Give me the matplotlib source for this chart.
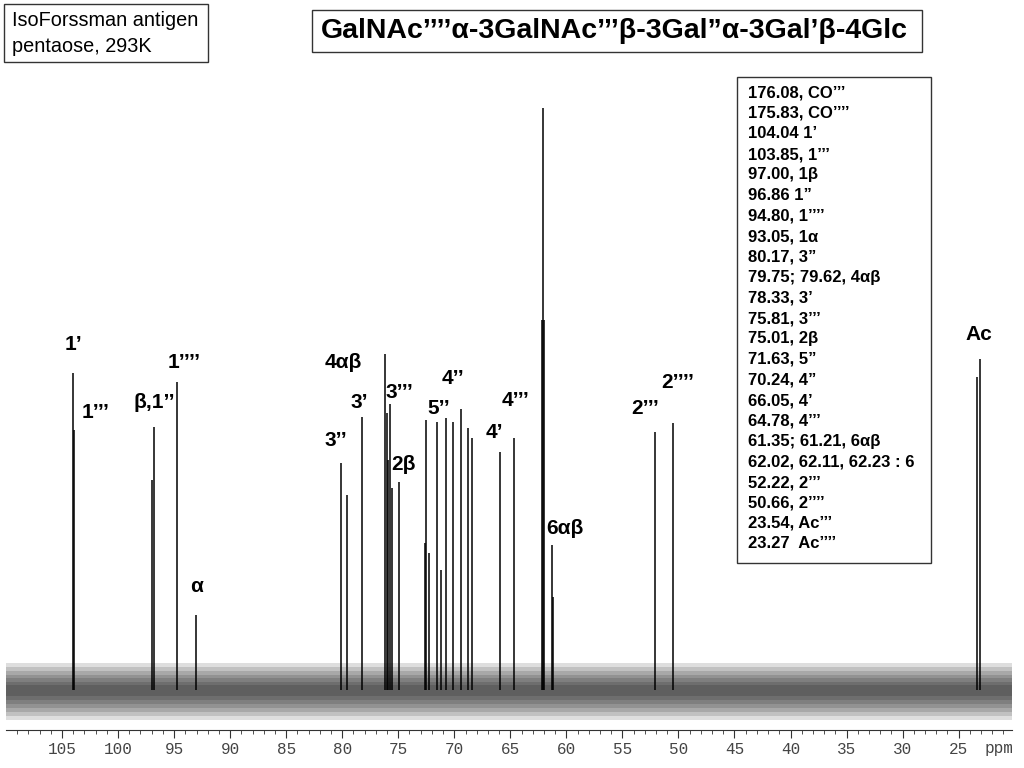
import matplotlib
matplotlib.use("Agg")
import matplotlib.pyplot as plt
from matplotlib.patches import Rectangle

plt.rcParams['font.family'] = ['Liberation Sans', 'DejaVu Sans']

# peak positions (ppm) and heights (arbitrary units, baseline = 0)
peak_ppm = [104.04, 103.95, 97.00, 96.80, 94.75, 93.04,
            80.09, 79.58, 78.24, 76.22, 76.05, 75.90, 75.74, 75.56, 74.93,
            72.60, 72.50, 72.26, 71.55, 71.20, 70.78, 70.15, 69.44, 68.81, 68.40,
            65.95, 64.67, 62.20, 62.10, 62.02, 61.25, 61.15,
            52.08, 50.47, 23.39, 23.10]
peak_int = [317, 260, 210, 263, 308, 75,
            227, 195, 273, 336, 277, 230, 286, 202, 208,
            147, 270, 137, 268, 120, 272, 268, 281, 262, 252,
            238, 252, 370, 582, 370, 145, 93,
            258, 267, 313, 331]

# peak labels: text, ppm, height
label_txt = ['1’', '1’’’', 'β,1’’', '1’’’’', 'α',
             '3’’', '4αβ', '3’', '3’’’', '2β', '5’’', '4’’',
             '4’', '4’’’', '6αβ', '2’’’', '2’’’’', 'Ac']
label_ppm = [104.0, 102.0, 96.8, 94.1, 93.0,
             80.6, 79.9, 78.5, 74.9, 74.5, 71.4, 70.1,
             66.4, 64.5, 60.1, 53.0, 50.1, 23.2]
label_int = [345, 278, 288, 328, 103,
             250, 327, 287, 297, 225, 282, 312,
             258, 289, 162, 282, 307, 355]

tick_vals = [105, 100, 95, 90, 85, 80, 75, 70, 65, 60, 55, 50, 45, 40, 35, 30, 25]

table_lines = ['176.08, CO’’’', '175.83, CO’’’’', '104.04 1’', '103.85, 1’’’',
               '97.00, 1β', '96.86 1”', '94.80, 1’’’’', '93.05, 1α', '80.17, 3”',
               '79.75; 79.62, 4αβ', '78.33, 3’', '75.81, 3’’’', '75.01, 2β',
               '71.63, 5”', '70.24, 4”', '66.05, 4’', '64.78, 4’’’',
               '61.35; 61.21, 6αβ', '62.02, 62.11, 62.23 : 6', '52.22, 2’’’',
               '50.66, 2’’’’', '23.54, Ac’’’', '23.27  Ac’’’’']

fig = plt.figure(figsize=(10.24, 7.68), dpi=100)
ax = fig.add_axes([6/1024, 38/768, 1006/1024, 630/768])

# baseline noise drawn as a soft band
span = [110, 20.2]
for lo, hi in [(-30, 27), (-26, 23), (-22, 19), (-18, 15), (-14, 12), (-10, 8), (-6, 5)]:
    ax.fill_between(span, lo, hi, color='black', alpha=0.13, lw=0)
ax.vlines(peak_ppm, 0, peak_int, color='black', lw=1.1)

for t, x, y in zip(label_txt, label_ppm, label_int):
    ax.text(x, y, t, ha='center', va='center', fontsize=15, fontweight='bold')

ax.set_xlim(110.0, 20.24)
ax.set_ylim(-40, 590)
for s in ['top', 'left', 'right']:
    ax.spines[s].set_visible(False)
ax.spines['bottom'].set_color('#333333')
ax.set_yticks([])
ax.set_xticks(tick_vals)
ax.set_xticks(range(21, 110), minor=True)
ax.tick_params(axis='x', which='major', length=6, color='#333333', labelsize=11.5,
               labelcolor='#444444', pad=3)
ax.tick_params(axis='x', which='minor', length=3, color='#333333')
for lab in ax.get_xticklabels():
    lab.set_family('Liberation Mono')
ax.text(22.7, -58, 'ppm', ha='left', va='center', fontsize=11.5, color='#444444',
        family='Liberation Mono', clip_on=False)

# boxes
fig.patches.append(Rectangle((4/1024, 1 - 62/768), 204/1024, 58/768, transform=fig.transFigure,
                             fill=False, edgecolor='#333333', lw=1))
fig.text(12/1024, 1 - 20/768, 'IsoForssman antigen', fontsize=14.3, va='center', ha='left')
fig.text(12/1024, 1 - 46/768, 'pentaose, 293K', fontsize=14.3, va='center', ha='left')

fig.patches.append(Rectangle((312/1024, 1 - 52/768), 610/1024, 42/768, transform=fig.transFigure,
                             fill=False, edgecolor='#333333', lw=1))
fig.text(614/1024, 1 - 31/768, 'GalNAc’’’’α-3GalNAc’’’β-3Gal”α-3Gal’β-4Glc',
         fontsize=20.5, fontweight='bold', ha='center', va='center')

fig.patches.append(Rectangle((737/1024, 1 - 563/768), 194/1024, 486/768, transform=fig.transFigure,
                             facecolor='white', edgecolor='#333333', lw=1, zorder=3))
for i, line in enumerate(table_lines):
    fig.text(748/1024, 1 - (93 + i*20.5)/768, line, fontsize=12, fontweight='bold',
             ha='left', va='center', zorder=4)

fig.savefig('out.png', dpi=100)
